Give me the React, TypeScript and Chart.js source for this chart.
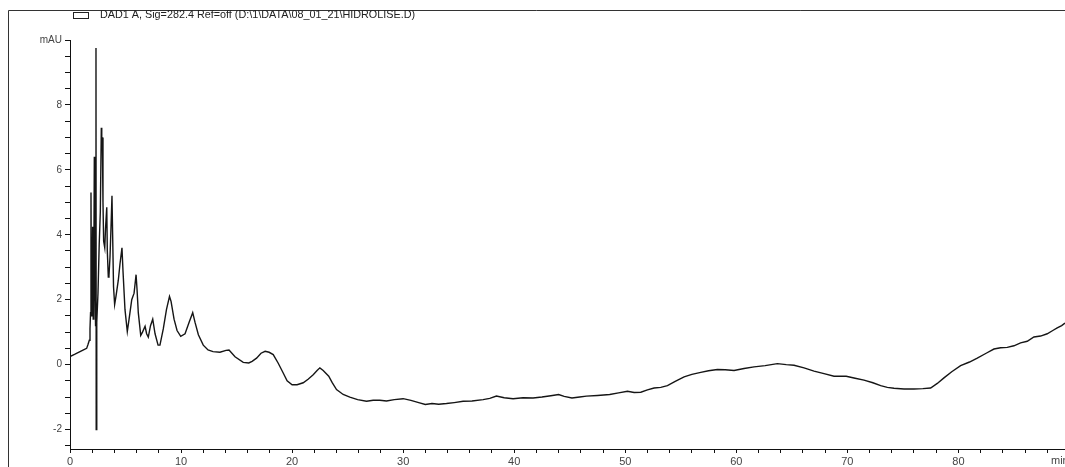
import React, { useEffect, useRef } from "react";
import { Chart, registerables } from "chart.js";

Chart.register(...registerables);

const seriesLabel = "DAD1 A, Sig=282.4 Ref=off (D:\\1\\DATA\\08_01_21\\HIDROLISE.D)";
const yUnitLabel = "mAU";
const xUnitLabel = "min";

const majorXTicks = [0, 10, 20, 30, 40, 50, 60, 70, 80];
const majorYTicks = [-2, 0, 2, 4, 6, 8];

const timeMin = [
  0, 0.45, 0.9, 1.26, 1.5, 1.62, 1.74, 1.8, 1.85, 1.89, 1.93, 1.98, 2.04, 2.09, 2.14, 2.19, 2.25, 2.3, 2.34, 2.36,
  2.39, 2.43, 2.52, 2.63, 2.73, 2.82, 2.86, 2.91, 2.97, 3.03, 3.13, 3.2, 3.31, 3.36, 3.45, 3.51, 3.6, 3.69, 3.78, 3.84,
  3.92, 4.02, 4.14, 4.35, 4.5, 4.68, 4.77, 4.95, 5.16, 5.32, 5.56, 5.77, 5.95, 6.04, 6.15, 6.37, 6.53, 6.76, 6.9, 7.05,
  7.25, 7.45, 7.66, 7.93, 8.1, 8.4, 8.69, 8.96, 9.1, 9.37, 9.64, 9.97, 10.36, 10.72, 11.05, 11.26, 11.56, 12.0, 12.43, 12.88,
  13.5, 14.05, 14.32, 14.86, 15.6, 16.1, 16.4, 16.8, 17.2, 17.57, 17.93, 18.3, 18.74, 19.2, 19.55, 20.0, 20.45, 21.0, 21.44, 21.9,
  22.25, 22.5, 22.8, 23.3, 23.6, 24.0, 24.6, 25.2, 25.9, 26.7, 27.3, 27.9, 28.5, 29.2, 30.0, 30.7, 31.4, 32.0, 32.6, 33.2,
  33.9, 34.6, 35.4, 36.2, 37.2, 37.8, 38.4, 39.1, 39.9, 40.8, 41.7, 42.5, 43.3, 44.0, 44.5, 45.2, 45.9, 46.5, 47.5, 48.6,
  49.4, 50.2, 50.8, 51.4, 52.0, 52.6, 53.2, 53.8, 54.5, 55.3, 56.0, 56.8, 57.5, 58.3, 59.0, 59.8, 60.7, 61.6, 62.6, 63.7,
  64.5, 65.2, 66.1, 67.0, 67.9, 68.8, 69.9, 70.7, 71.5, 72.3, 73.0, 73.6, 74.2, 75.1, 76.0, 76.8, 77.5, 78.1, 78.7, 79.4,
  80.2, 81.0, 81.7, 82.5, 83.2, 83.8, 84.4, 85.0, 85.6, 86.2, 86.8, 87.4, 88.0, 88.5, 88.9, 89.3, 89.6,
];

const signalMAU = [
  0.25, 0.32, 0.4, 0.46, 0.5, 0.62, 0.75, 1.1, 1.6, 5.3, 1.5, 2.0, 4.25, 1.4, 2.5, 6.4, 2.4, 1.2, 9.75, -2.0,
  1.7, 1.3, 2.2, 3.7, 4.7, 7.3, 6.6, 7.0, 5.0, 3.8, 3.6, 4.2, 4.85, 3.5, 2.7, 2.75, 3.3, 4.2, 5.2, 4.0,
  2.4, 1.85, 2.1, 2.6, 3.1, 3.6, 2.9, 1.7, 1.02, 1.4, 2.0, 2.2, 2.77, 2.3, 1.6, 0.9, 1.0, 1.18, 0.95, 0.85,
  1.2, 1.4, 0.95, 0.6, 0.6, 1.1, 1.7, 2.1, 1.95, 1.4, 1.05, 0.87, 0.95, 1.3, 1.6, 1.3, 0.92, 0.6, 0.45, 0.4,
  0.38, 0.44, 0.45, 0.24, 0.07, 0.05, 0.1, 0.2, 0.35, 0.41, 0.38, 0.31, 0.05, -0.26, -0.5, -0.62, -0.62, -0.56, -0.45, -0.31,
  -0.18, -0.1, -0.18, -0.36, -0.55, -0.77, -0.92, -1.0, -1.08, -1.13, -1.1, -1.1, -1.12, -1.08, -1.05, -1.1, -1.17, -1.23, -1.2, -1.22,
  -1.2, -1.17, -1.13, -1.12, -1.08, -1.04, -0.97, -1.02, -1.05, -1.02, -1.03, -1.0, -0.96, -0.92, -0.98, -1.03, -1.0, -0.97, -0.95, -0.92,
  -0.87, -0.82, -0.86, -0.85, -0.78, -0.72, -0.7, -0.65, -0.52, -0.38, -0.3, -0.24, -0.19, -0.15, -0.16, -0.18, -0.12, -0.07, -0.03, 0.03,
  0.0, -0.02, -0.1, -0.2, -0.28, -0.36, -0.36, -0.42, -0.48, -0.56, -0.65, -0.7, -0.73, -0.75, -0.75, -0.74, -0.72, -0.58, -0.41, -0.22,
  -0.03, 0.08, 0.2, 0.35, 0.48, 0.52, 0.53, 0.58, 0.67, 0.72, 0.85, 0.88, 0.95, 1.05, 1.13, 1.2, 1.28,
];

const FONT = "'Liberation Sans', Arial, sans-serif";

const decorPlugin = {
  id: "decor",
  afterDraw(chart: any) {
    const ctx = chart.ctx as CanvasRenderingContext2D;
    const { width, height } = chart;
    ctx.save();
    // outer frame
    ctx.strokeStyle = "#333";
    ctx.lineWidth = 1;
    ctx.beginPath();
    ctx.moveTo(8.5, height);
    ctx.lineTo(8.5, 10.5);
    ctx.lineTo(width, 10.5);
    ctx.stroke();
    // legend
    ctx.strokeStyle = "#222";
    ctx.strokeRect(73.5, 12.5, 15, 6);
    ctx.fillStyle = "#222";
    ctx.font = `10.8px ${FONT}`;
    ctx.textBaseline = "middle";
    ctx.textAlign = "left";
    ctx.fillText(chart.data.datasets[0].label, 100, 15.5);
    // x unit label
    const xs = chart.scales.x;
    ctx.fillStyle = "#444";
    ctx.font = `11px ${FONT}`;
    ctx.textBaseline = "middle";
    ctx.fillText(xUnitLabel, 1051, xs.top + 12);
    ctx.restore();
  },
};

export default function App() {
  const ref = useRef<HTMLCanvasElement | null>(null);

  useEffect(() => {
    if (!ref.current) return;
    const points = timeMin.map((t, i) => ({ x: t, y: signalMAU[i] }));
    const chart = new Chart(ref.current, {
      type: "line",
      data: {
        datasets: [
          {
            label: seriesLabel,
            data: points,
            borderColor: "#151515",
            borderWidth: 1.4,
            pointRadius: 0,
            tension: 0,
            fill: false,
          },
        ],
      },
      options: {
        animation: false,
        responsive: false,
        maintainAspectRatio: false,
        layout: { padding: { top: 40, right: 0, left: 0, bottom: 0 } },
        plugins: {
          legend: { display: false },
          tooltip: { enabled: false },
        },
        scales: {
          x: {
            type: "linear",
            min: 0,
            max: 89.6,
            afterBuildTicks: (scale: any) => {
              scale.ticks = scale.ticks.filter((t: any) => t.value >= 0 && t.value <= 89.6);
            },
            afterFit: (scale: any) => {
              scale.height = 18;
            },
            ticks: {
              stepSize: 2,
              includeBounds: false,
              autoSkip: false,
              maxRotation: 0,
              padding: 2,
              color: "#444",
              font: { size: 11, family: FONT },
              callback: (v: any) => (majorXTicks.includes(Number(v)) ? String(v) : ""),
            },
            grid: { drawOnChartArea: false, drawTicks: true, tickLength: 4, color: "#111" },
            border: { display: true, color: "#111", width: 1 },
          },
          y: {
            type: "linear",
            min: -2.6,
            max: 10,
            afterFit: (scale: any) => {
              scale.width = 70;
            },
            ticks: {
              stepSize: 0.5,
              includeBounds: false,
              autoSkip: false,
              padding: 3,
              color: "#444",
              font: { size: 10, family: FONT },
              callback: (v: any) => {
                const n = Number(v);
                if (n === 10) return yUnitLabel;
                return majorYTicks.includes(n) ? String(n) : "";
              },
            },
            grid: { drawOnChartArea: false, drawTicks: true, tickLength: 5, color: "#111" },
            border: { display: true, color: "#111", width: 1 },
          },
        },
      },
      plugins: [decorPlugin],
    });
    return () => chart.destroy();
  }, []);

  return (
    <div style={{ position: "fixed", left: 0, top: 0, width: 1065, height: 467, background: "#fff" }}>
      <canvas ref={ref} width={1065} height={467} style={{ width: 1065, height: 467, display: "block" }} />
    </div>
  );
}
